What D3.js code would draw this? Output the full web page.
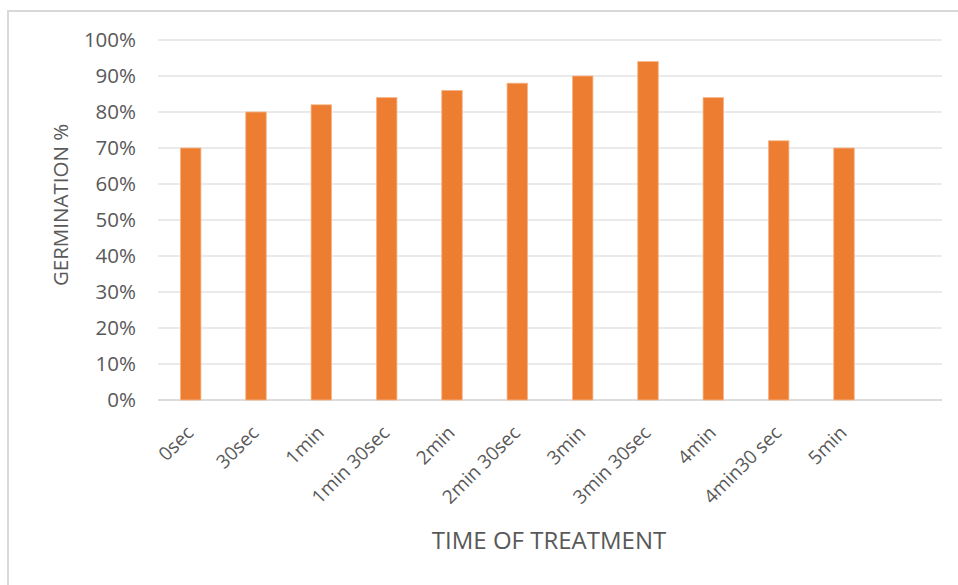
<!DOCTYPE html>
<html>
<head>
<meta charset="utf-8">
<script src="https://cdn.jsdelivr.net/npm/d3@7"></script>
<style>
  html, body { margin: 0; padding: 0; background: #fff; }
  svg { display: block; }
  text { font-family: "Open Sans", "Liberation Sans", sans-serif; fill: #595959; }
</style>
</head>
<body>
<svg id="chart" width="958" height="585"></svg>
<script>
// Treatment durations (one extra empty slot keeps Excel's spacing at the right end)
const categories = ["0sec", "30sec", "1min", "1min 30sec", "2min", "2min 30sec",
                    "3min", "3min 30sec", "4min", "4min30 sec", "5min"];
const germination = [0.70, 0.80, 0.82, 0.84, 0.86, 0.88, 0.90, 0.94, 0.84, 0.72, 0.70];
const yTicks = [0, 0.1, 0.2, 0.3, 0.4, 0.5, 0.6, 0.7, 0.8, 0.9, 1.0];
const xTitle = "TIME OF TREATMENT";
const yTitle = "GERMINATION %";

const svg = d3.select("#chart");
const plot = { left: 158, right: 942, top: 40, bottom: 400 };

// Chart frame
svg.append("rect")
  .attr("x", 8).attr("y", 11)
  .attr("width", 970).attr("height", 600)
  .attr("fill", "none")
  .attr("stroke", "#d9d9d9")
  .attr("stroke-width", 2);

const slots = categories.concat([""]);
const x = d3.scaleBand()
  .domain(d3.range(slots.length))
  .range([plot.left, plot.right])
  .paddingInner(0.686)
  .paddingOuter(0.343);

const y = d3.scaleLinear().domain([0, 1]).range([plot.bottom, plot.top]);

// Gridlines
svg.append("g")
  .selectAll("line")
  .data(yTicks)
  .join("line")
  .attr("x1", plot.left).attr("x2", plot.right)
  .attr("y1", d => y(d)).attr("y2", d => y(d))
  .attr("stroke", d => d === 0 ? "#d0d0d0" : "#e3e3e3")
  .attr("stroke-width", 1.5);

// Y axis labels
const yAxis = d3.axisLeft(y)
  .tickValues(yTicks)
  .tickFormat(d3.format(".0%"))
  .tickSize(0)
  .tickPadding(0);
const yg = svg.append("g")
  .attr("transform", `translate(${plot.left - 22},0)`)
  .call(yAxis);
yg.select(".domain").remove();
yg.selectAll("text")
  .style("font-size", "20.5px")
  .attr("fill", "#595959");

// Bars
svg.append("g")
  .selectAll("rect")
  .data(germination)
  .join("rect")
  .attr("x", (d, i) => x(i))
  .attr("width", x.bandwidth())
  .attr("y", d => y(d))
  .attr("height", d => y(0) - y(d))
  .attr("fill", "#ed7d31")
  .attr("stroke", "#f5b58a")
  .attr("stroke-width", 0.8);

// Category labels, rotated
const xAxis = d3.axisBottom(x)
  .tickFormat(i => slots[i])
  .tickSize(0)
  .tickPadding(0);
const xg = svg.append("g")
  .attr("transform", `translate(0,${plot.bottom})`)
  .call(xAxis);
xg.select(".domain").remove();
xg.selectAll("text")
  .style("font-size", "19px")
  .attr("fill", "#595959")
  .attr("text-anchor", "end")
  .attr("dy", null)
  .attr("y", 0)
  .attr("transform", "translate(4,34) rotate(-45)");

// Axis titles
svg.append("text")
  .attr("x", 549)
  .attr("y", 549)
  .attr("text-anchor", "middle")
  .style("font-size", "24px")
  .text(xTitle);

svg.append("text")
  .attr("transform", "translate(68,205) rotate(-90)")
  .attr("text-anchor", "middle")
  .style("font-size", "20.5px")
  .text(yTitle);
</script>
</body>
</html>
